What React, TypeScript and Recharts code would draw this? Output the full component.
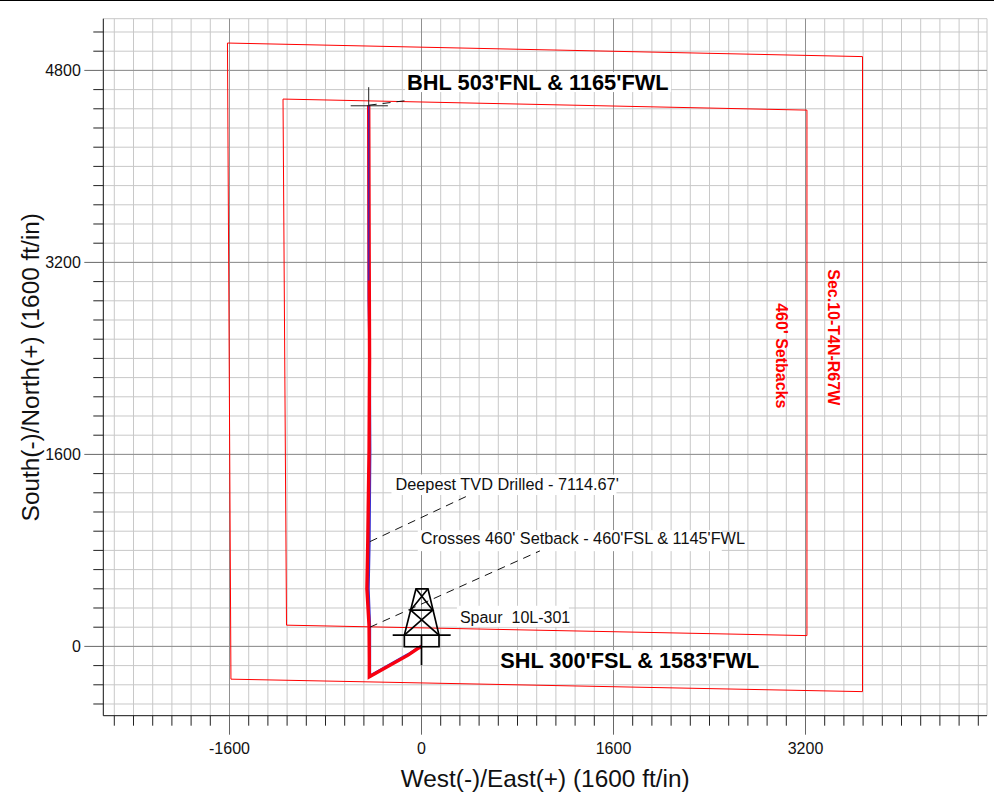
import { ScatterChart, Scatter, XAxis, YAxis, CartesianGrid, ReferenceDot } from "recharts";

type Pt = { x: number; y: number };

const majorX = [-1600, 0, 1600, 3200];
const majorY = [0, 1600, 3200, 4800];
const minorX = [
  -2560, -2400, -2240, -2080, -1920, -1760, -1600, -1440, -1280, -1120, -960, -800, -640, -480, -320, -160, 0, 160, 320,
  480, 640, 800, 960, 1120, 1280, 1440, 1600, 1760, 1920, 2080, 2240, 2400, 2560, 2720, 2880, 3040, 3200, 3360, 3520,
  3680, 3840, 4000, 4160, 4320, 4480, 4640,
];
const minorY = [
  -480, -320, -160, 0, 160, 320, 480, 640, 800, 960, 1120, 1280, 1440, 1600, 1760, 1920, 2080, 2240, 2400, 2560, 2720,
  2880, 3040, 3200, 3360, 3520, 3680, 3840, 4000, 4160, 4320, 4480, 4640, 4800, 4960, 5120,
];

const sectionLines: Pt[] = [
  { x: -1617, y: 5028 },
  { x: 3675, y: 4915 },
  { x: 3675, y: -377 },
  { x: -1588, y: -273 },
  { x: -1617, y: 5028 },
];
const setbackLines: Pt[] = [
  { x: -1154, y: 4561 },
  { x: 3212, y: 4469 },
  { x: 3212, y: 90 },
  { x: -1125, y: 177 },
  { x: -1154, y: 4561 },
];
const planWell: Pt[] = [
  { x: 0, y: 5 },
  { x: -110, y: -65 },
  { x: -430, y: -245 },
  { x: -430, y: 170 },
  { x: -442, y: 480 },
  { x: -434, y: 860 },
  { x: -428, y: 1640 },
  { x: -432, y: 2400 },
  { x: -440, y: 2900 },
  { x: -440, y: 4510 },
];
const planWellTop: Pt[] = [
  { x: -440, y: 3050 },
  { x: -440, y: 4510 },
];
const actualWell: Pt[] = [
  { x: 0, y: 0 },
  { x: -35, y: -20 },
  { x: -112, y: -73 },
  { x: -435, y: -253 },
  { x: -435, y: -100 },
  { x: -437, y: 170 },
  { x: -455, y: 480 },
  { x: -448, y: 860 },
  { x: -437, y: 1640 },
  { x: -433, y: 2400 },
  { x: -436, y: 3200 },
  { x: -440, y: 4510 },
];

const bhlCrossV: Pt[] = [{ x: -440, y: 4660 }, { x: -440, y: 4510 }];
const bhlCrossH: Pt[] = [{ x: -590, y: 4505 }, { x: -280, y: 4505 }];
const leaders: Pt[][] = [
  [{ x: -440, y: 4510 }, { x: -112, y: 4550 }],
  [{ x: -430, y: 873 }, { x: 404, y: 1264 }],
  [{ x: -430, y: 160 }, { x: 987, y: 796 }],
];
const rigLines: Pt[][] = [
  [{ x: -143, y: 94 }, { x: -46, y: 480 }, { x: 54, y: 480 }, { x: 146, y: 94 }],
  [{ x: -46, y: 480 }, { x: 93, y: 303 }, { x: -90, y: 303 }, { x: 54, y: 480 }],
  [{ x: -90, y: 303 }, { x: 146, y: 94 }],
  [{ x: 93, y: 303 }, { x: -143, y: 94 }],
  [{ x: -240, y: 94 }, { x: 243, y: 94 }],
  [{ x: -143, y: 94 }, { x: -143, y: -3 }, { x: 146, y: -3 }, { x: 146, y: 94 }],
  [{ x: 0, y: 94 }, { x: 0, y: -156 }],
];

const noteAnchors = [
  { x: -217, y: 1303, text: "Deepest TVD Drilled - 7114.67'", size: 16.3, bold: false, boxX: -4, boxY: -15.5, boxW: 225, boxH: 20.5 },
  { x: -6, y: 852, text: "Crosses 460' Setback - 460'FSL & 1145'FWL", size: 16.3, bold: false, boxX: -3, boxY: -14, boxW: 304, boxH: 21 },
  { x: 320, y: 197, text: "Spaur  10L-301", size: 16, bold: false, boxX: -3, boxY: -17, boxW: 112, boxH: 21 },
  { x: -120, y: 4636, text: "BHL 503'FNL & 1165'FWL", size: 21.8, bold: true, boxX: -2, boxY: -18, boxW: 266, boxH: 20 },
  { x: 657, y: -181, text: "SHL 300'FSL & 1583'FWL", size: 21.7, bold: true, boxX: -1, boxY: -18, boxW: 260, boxH: 20 },
];
const sideNotes = [
  { x: 2950, y: 2860, text: "460' Setbacks" },
  { x: 3385, y: 3143, text: "Sec.10-T4N-R67W" },
];

const FONT = "'Liberation Sans', Arial, sans-serif";
const noDot = () => <g />;

function XTick({ x, y, payload }: any) {
  const major = majorX.includes(payload.value);
  return (
    <g>
      <line x1={x} x2={x} y1={y} y2={y + (major ? 19 : 10)} stroke={major ? "#666" : "#222"} strokeWidth={1} />
      {major && (
        <text x={x} y={y + 38} textAnchor="middle" fontSize={16} fontFamily={FONT} fill="#111">
          {payload.value}
        </text>
      )}
    </g>
  );
}

function YTick({ x, y, payload }: any) {
  const major = majorY.includes(payload.value);
  return (
    <g>
      <line x1={x - (major ? 19 : 10)} x2={x} y1={y} y2={y} stroke={major ? "#666" : "#222"} strokeWidth={1} />
      {major && (
        <text x={x - 22.5} y={y + 5.5} textAnchor="end" fontSize={16} fontFamily={FONT} fill="#111">
          {payload.value}
        </text>
      )}
    </g>
  );
}

function path(data: Pt[], stroke: string, strokeWidth: number, key: string, dash?: string) {
  return (
    <Scatter
      key={key}
      data={data}
      line={{ stroke, strokeWidth, strokeDasharray: dash }}
      lineType="joint"
      shape={noDot}
      isAnimationActive={false}
    />
  );
}

export default function App() {
  return (
    <div style={{ position: "absolute", left: 0, top: 0, width: 994, height: 807, background: "#fff" }}>
      <div style={{ position: "absolute", left: 0, top: 0, width: 994, height: 1, background: "#000" }} />
      <ScatterChart width={994} height={807} margin={{ top: 18.7, right: 7, bottom: 0, left: 0 }}>
        <CartesianGrid
          stroke="#c8c8c8"
          strokeWidth={1}
          horizontalValues={[...minorY, 5230.8]}
          verticalValues={[...minorX, 4712.5]}
        />
        <CartesianGrid stroke="#909090" strokeWidth={1} horizontalValues={majorY} verticalValues={majorX} />
        <XAxis
          type="number"
          dataKey="x"
          domain={[-2651.7, 4712.5]}
          ticks={minorX}
          interval={0}
          tick={<XTick />}
          tickLine={false}
          tickSize={0}
          tickMargin={0}
          height={91.3}
          stroke="#111"
          allowDataOverflow
          label={{
            value: "West(-)/East(+)  (1600 ft/in)",
            position: "insideBottom",
            offset: 20,
            fontSize: 24.4,
            fontFamily: FONT,
            fill: "#111",
          }}
        />
        <YAxis
          type="number"
          dataKey="y"
          domain={[-577.5, 5230.8]}
          ticks={minorY}
          interval={0}
          tick={<YTick />}
          tickLine={false}
          tickSize={0}
          tickMargin={0}
          width={103.3}
          stroke="#111"
          allowDataOverflow
          label={{
            value: "South(-)/North(+)  (1600 ft/in)",
            angle: -90,
            position: "insideLeft",
            offset: 30,
            style: { textAnchor: "middle" },
            fontSize: 24.4,
            fontFamily: FONT,
            fill: "#111",
          }}
        />
        {noteAnchors.map((n) => (
          <ReferenceDot
            key={n.text + "-box"}
            x={n.x}
            y={n.y}
            r={0}
            ifOverflow="visible"
            shape={(p: any) => <rect x={p.cx + n.boxX} y={p.cy + n.boxY} width={n.boxW} height={n.boxH} fill="#fff" />}
          />
        ))}
        {path(sectionLines, "#ff0000", 1, "section")}
        {path(setbackLines, "#ff0000", 1, "setback")}
        {path(planWell, "#3a2fd0", 2.5, "plan")}
        {path(actualWell, "#f80010", 3.4, "actual")}
        {path(planWellTop, "#5020b0", 1.3, "planTop")}
        {path(bhlCrossV, "#222", 1, "bhlV")}
        {path(bhlCrossH, "#222", 1, "bhlH")}
        {leaders.map((l, i) => path(l, "#111", 1, "leader" + i, "8 6"))}
        {rigLines.map((l, i) => path(l, "#000", 1.7, "rig" + i))}
        {noteAnchors.map((n) => (
          <ReferenceDot
            key={n.text}
            x={n.x}
            y={n.y}
            r={0}
            ifOverflow="visible"
            shape={(p: any) => (
              <text
                x={p.cx}
                y={p.cy}
                fontSize={n.size}
                fontWeight={n.bold ? "bold" : "normal"}
                fontFamily={FONT}
                fill={n.bold ? "#000" : "#111"}
                xmlSpace="preserve"
              >
                {n.text}
              </text>
            )}
          />
        ))}
        {sideNotes.map((n) => (
          <ReferenceDot
            key={n.text}
            x={n.x}
            y={n.y}
            r={0}
            ifOverflow="visible"
            shape={(p: any) => (
              <text
                x={p.cx}
                y={p.cy}
                transform={`rotate(90 ${p.cx} ${p.cy})`}
                fontSize={16}
                fontWeight="bold"
                fontFamily={FONT}
                fill="#ff0000"
              >
                {n.text}
              </text>
            )}
          />
        ))}
      </ScatterChart>
    </div>
  );
}
